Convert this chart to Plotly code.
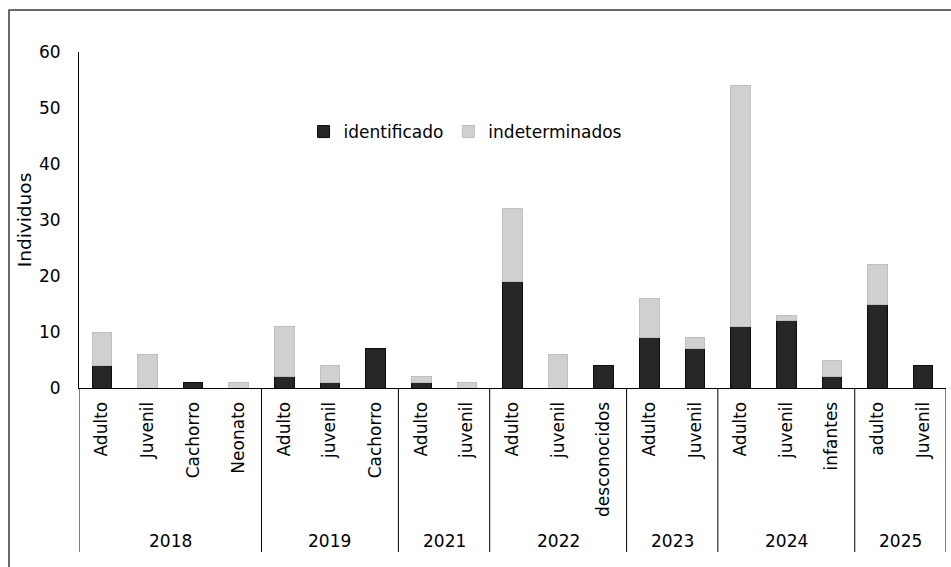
import plotly.graph_objects as go

# Sampling years and the age classes recorded in each
years = ["2018", "2019", "2021", "2022", "2023", "2024", "2025"]
stages = [
    ["Adulto", "Juvenil", "Cachorro", "Neonato"],
    ["Adulto", "juvenil", "Cachorro"],
    ["Adulto", "juvenil"],
    ["Adulto", "juvenil", "desconocidos"],
    ["Adulto", "Juvenil"],
    ["Adulto", "juvenil", "infantes"],
    ["adulto", "Juvenil"],
]

# Counts of individuals per age class (same order as the flattened stages)
identificado = [4, 0, 1, 0, 2, 1, 7, 1, 0, 19, 0, 4, 9, 7, 11, 12, 2, 15, 4]
indeterminados = [6, 6, 0, 1, 9, 3, 0, 1, 1, 13, 6, 0, 7, 2, 43, 1, 3, 7, 0]

FONT = "DejaVu Sans"
W, H = 951, 567
ML, MR, MT, MB = 79, 5, 52, 179
PH = H - MT - MB

labels = [s for grp in stages for s in grp]
xpos = list(range(len(labels)))


def nz(vals):
    return [v if v else None for v in vals]


fig = go.Figure()
fig.add_trace(go.Bar(
    x=xpos, y=nz(identificado), name="identificado", width=0.43,
    marker=dict(color="#262626", line=dict(color="#0d0d0d", width=1)),
))
fig.add_trace(go.Bar(
    x=xpos, y=nz(indeterminados), name="indeterminados", width=0.43,
    marker=dict(color="#d0d0d0", line=dict(color="#bfbfbf", width=1)),
))

# Year group labels and separators below the category labels
def py(pix):
    return (H - MB - pix) / PH


shapes = []
annotations = []
start = 0
bounds = [-0.5]
for yr, grp in zip(years, stages):
    end = start + len(grp)
    annotations.append(dict(
        x=(start + end - 1) / 2, y=py(541), xref="x", yref="paper",
        text=yr, showarrow=False, yanchor="middle", xanchor="center",
        font=dict(family=FONT, size=17, color="#000000"),
    ))
    bounds.append(end - 0.5)
    start = end

for b in bounds:
    shapes.append(dict(
        type="line", xref="x", yref="paper", x0=b, x1=b, y0=0, y1=py(552),
        line=dict(color="#000000", width=1),
    ))

# Frame around the whole chart
shapes.append(dict(
    type="rect", xref="paper", yref="paper",
    x0=(9 - ML) / (W - ML - MR), x1=1.2, y0=-0.8, y1=py(10),
    line=dict(color="#3a3a3a", width=1.5), fillcolor="rgba(0,0,0,0)", layer="below",
))

fig.update_layout(
    width=W, height=H,
    margin=dict(l=ML, r=MR, t=MT, b=MB),
    barmode="stack",
    paper_bgcolor="white", plot_bgcolor="white",
    font=dict(family=FONT, size=17, color="#000000"),
    showlegend=True,
    legend=dict(
        orientation="h", x=0.259, y=py(132), xanchor="left", yanchor="middle",
        font=dict(family=FONT, size=17, color="#000000"),
        bgcolor="rgba(0,0,0,0)", itemwidth=30, tracegroupgap=0,
        traceorder="normal",
    ),
    shapes=shapes,
    annotations=annotations,
)

fig.update_xaxes(
    range=[-0.5, len(labels) - 0.5],
    tickmode="array", tickvals=xpos, ticktext=labels, tickangle=-90,
    showline=True, linecolor="#000000", linewidth=1,
    ticks="", showgrid=False, zeroline=False, ticklabelstandoff=6,
    tickfont=dict(family=FONT, size=17, color="#000000"),
)
fig.update_yaxes(
    range=[0, 60], dtick=10,
    showline=True, linecolor="#000000", linewidth=1,
    ticks="", showgrid=False, zeroline=False, ticklabelstandoff=14,
    tickfont=dict(family=FONT, size=17, color="#000000"),
    title=dict(text="Individuos", standoff=2,
               font=dict(family=FONT, size=18.5, color="#000000")),
)

fig.write_html("out.html")
